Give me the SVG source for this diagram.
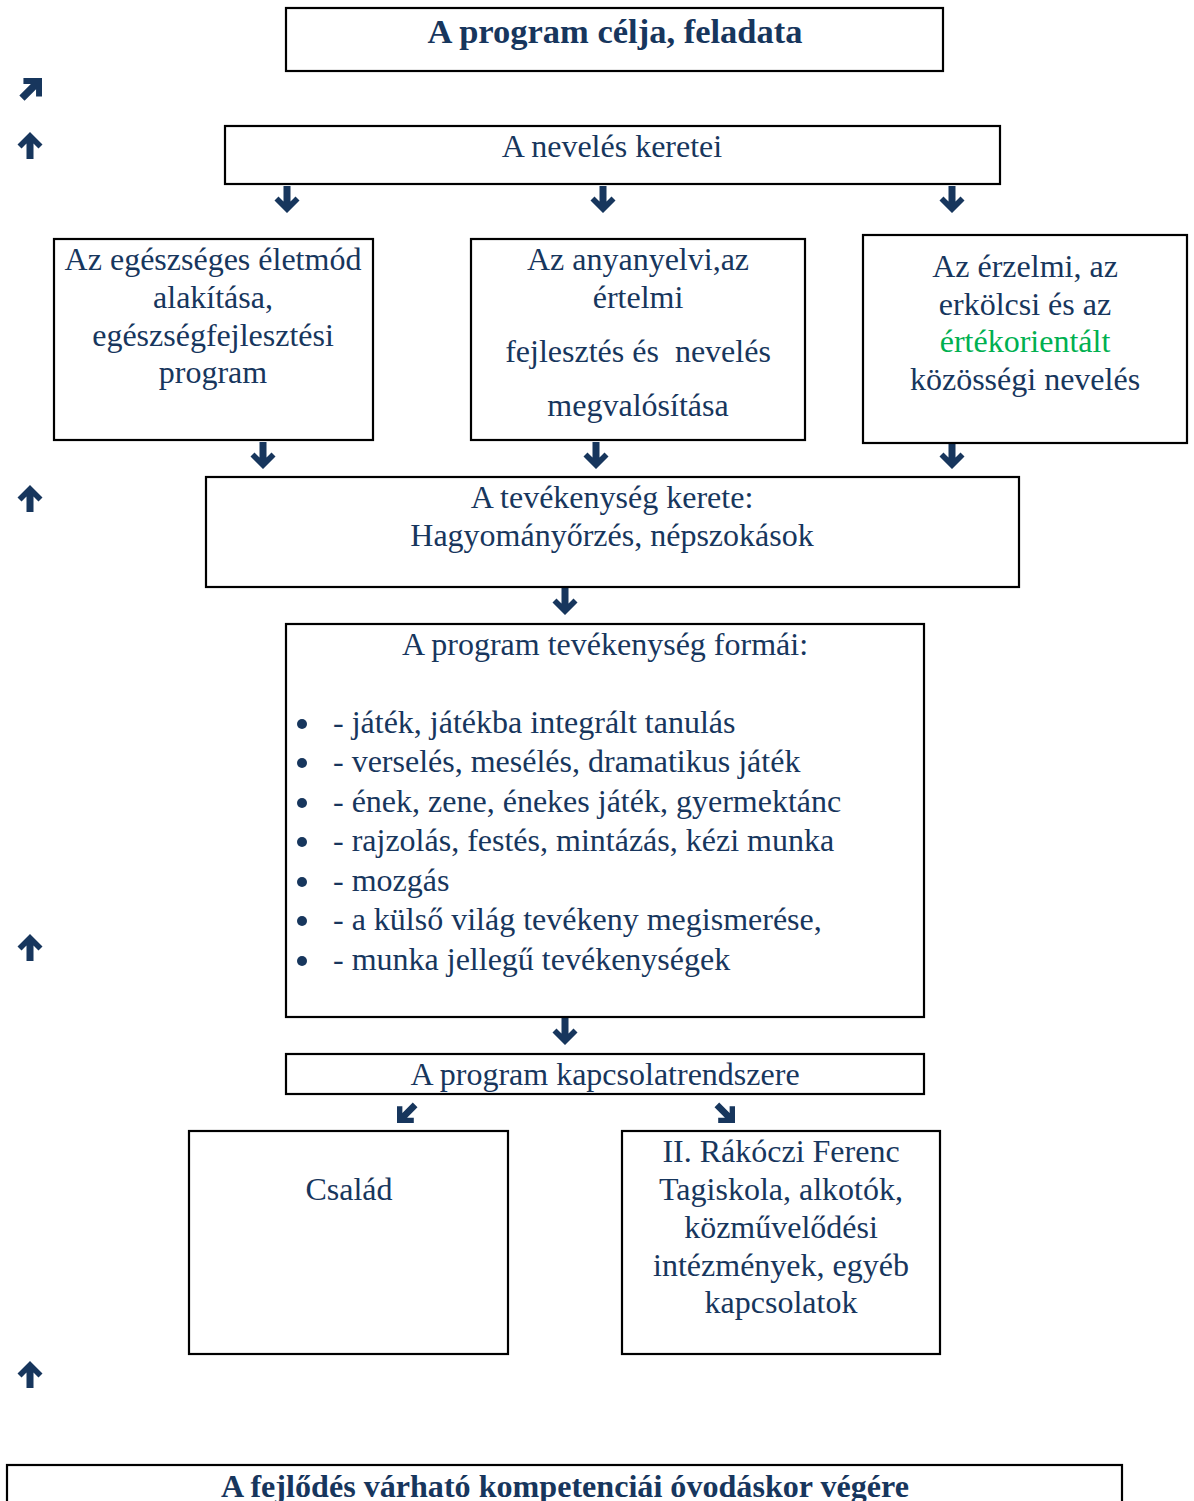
<svg xmlns="http://www.w3.org/2000/svg" xmlns:xlink="http://www.w3.org/1999/xlink" width="1194" height="1501" viewBox="0 0 1194 1501">
<style>
.box{fill:#fff;stroke:#000;stroke-width:2.2}
.t{font-family:"Liberation Serif","Times New Roman",serif;font-size:32px;fill:#17365d;text-anchor:middle}
.tl{font-family:"Liberation Serif","Times New Roman",serif;font-size:32px;fill:#17365d}
.b{font-family:"Liberation Serif","Times New Roman",serif;font-weight:bold;fill:#17365d;text-anchor:middle}
.g{fill:#00b050}
.arr{fill:#17365d}
.dot{fill:#17365d}
</style>
<defs>
<path id="up" d="M0 0 L12.5 12.5 L8.5 16.5 L3.5 11.5 V27 H-3.5 V11.5 L-8.5 16.5 L-12.5 12.5 Z"/>
</defs>
<rect width="1194" height="1501" fill="#fff"/>
<g id="connectors" class="arr">
<use xlink:href="#up" href="#up" transform="translate(42,78) rotate(45) scale(1.05)"/>
<use xlink:href="#up" href="#up" transform="translate(30,132)"/>
<use xlink:href="#up" href="#up" transform="translate(30,485)"/>
<use xlink:href="#up" href="#up" transform="translate(30,934)"/>
<use xlink:href="#up" href="#up" transform="translate(30,1361)"/>
<use xlink:href="#up" href="#up" transform="translate(287,213) rotate(180)"/>
<use xlink:href="#up" href="#up" transform="translate(603,213) rotate(180)"/>
<use xlink:href="#up" href="#up" transform="translate(952,213) rotate(180)"/>
<use xlink:href="#up" href="#up" transform="translate(263,469) rotate(180)"/>
<use xlink:href="#up" href="#up" transform="translate(596,469) rotate(180)"/>
<use xlink:href="#up" href="#up" transform="translate(952,469) rotate(180)"/>
<use xlink:href="#up" href="#up" transform="translate(565,615) rotate(180)"/>
<use xlink:href="#up" href="#up" transform="translate(565,1045) rotate(180)"/>
<use xlink:href="#up" href="#up" transform="translate(397,1123) rotate(225) scale(0.95)"/>
<use xlink:href="#up" href="#up" transform="translate(735,1123) rotate(135) scale(0.95)"/>
</g>
<g id="n-title">
<rect class="box" x="286" y="8" width="657" height="63"/>
<text class="b" x="615" y="43" font-size="34.5">A program célja, feladata</text>
</g>
<g id="n-keretei">
<rect class="box" x="225" y="126" width="775" height="58"/>
<text class="t" x="612" y="157">A nevelés keretei</text>
</g>
<g id="n-egeszseg">
<rect class="box" x="54" y="239" width="319" height="201"/>
<text class="t" x="213" y="270">Az egészséges életmód</text>
<text class="t" x="213" y="308">alakítása,</text>
<text class="t" x="213" y="345.5">egészségfejlesztési</text>
<text class="t" x="213" y="383">program</text>
</g>
<g id="n-anyanyelv">
<rect class="box" x="471" y="239" width="334" height="201"/>
<text class="t" x="638" y="270">Az anyanyelvi,az</text>
<text class="t" x="638" y="308">értelmi</text>
<text class="t" x="638" y="362" xml:space="preserve">fejlesztés és  nevelés</text>
<text class="t" x="638" y="416">megvalósítása</text>
</g>
<g id="n-erzelmi">
<rect class="box" x="863" y="235" width="324" height="208"/>
<text class="t" x="1025" y="277">Az érzelmi, az</text>
<text class="t" x="1025" y="315">erkölcsi és az</text>
<text class="t g" x="1025" y="352">értékorientált</text>
<text class="t" x="1025" y="390">közösségi nevelés</text>
</g>
<g id="n-tevekenyseg-kerete">
<rect class="box" x="206" y="477" width="813" height="110"/>
<text class="t" x="612" y="508">A tevékenység kerete:</text>
<text class="t" x="612" y="546">Hagyományőrzés, népszokások</text>
</g>
<g id="n-formai">
<rect class="box" x="286" y="624" width="638" height="393"/>
<text class="t" x="605" y="655">A program tevékenység formái:</text>
<circle class="dot" cx="302" cy="724" r="5"/>
<circle class="dot" cx="302" cy="763" r="5"/>
<circle class="dot" cx="302" cy="803" r="5"/>
<circle class="dot" cx="302" cy="842" r="5"/>
<circle class="dot" cx="302" cy="882" r="5"/>
<circle class="dot" cx="302" cy="921" r="5"/>
<circle class="dot" cx="302" cy="961" r="5"/>
<text class="tl" x="333" y="733">- játék, játékba integrált tanulás</text>
<text class="tl" x="333" y="772">- verselés, mesélés, dramatikus játék</text>
<text class="tl" x="333" y="812">- ének, zene, énekes játék, gyermektánc</text>
<text class="tl" x="333" y="851">- rajzolás, festés, mintázás, kézi munka</text>
<text class="tl" x="333" y="891">- mozgás</text>
<text class="tl" x="333" y="930">- a külső világ tevékeny megismerése,</text>
<text class="tl" x="333" y="970">- munka jellegű tevékenységek</text>
</g>
<g id="n-kapcsolat">
<rect class="box" x="286" y="1054" width="638" height="40"/>
<text class="t" x="605" y="1085">A program kapcsolatrendszere</text>
</g>
<g id="n-csalad">
<rect class="box" x="189" y="1131" width="319" height="223"/>
<text class="t" x="349" y="1200">Család</text>
</g>
<g id="n-rakoczi">
<rect class="box" x="622" y="1131" width="318" height="223"/>
<text class="t" x="781" y="1162">II. Rákóczi Ferenc</text>
<text class="t" x="781" y="1200">Tagiskola, alkotók,</text>
<text class="t" x="781" y="1238">közművelődési</text>
<text class="t" x="781" y="1276">intézmények, egyéb</text>
<text class="t" x="781" y="1313">kapcsolatok</text>
</g>
<g id="n-kompetenciak">
<rect class="box" x="7" y="1465" width="1115" height="50"/>
<text class="b" x="565" y="1497" font-size="32" textLength="688" lengthAdjust="spacingAndGlyphs">A fejlődés várható kompetenciái óvodáskor végére</text>
</g>
</svg>
